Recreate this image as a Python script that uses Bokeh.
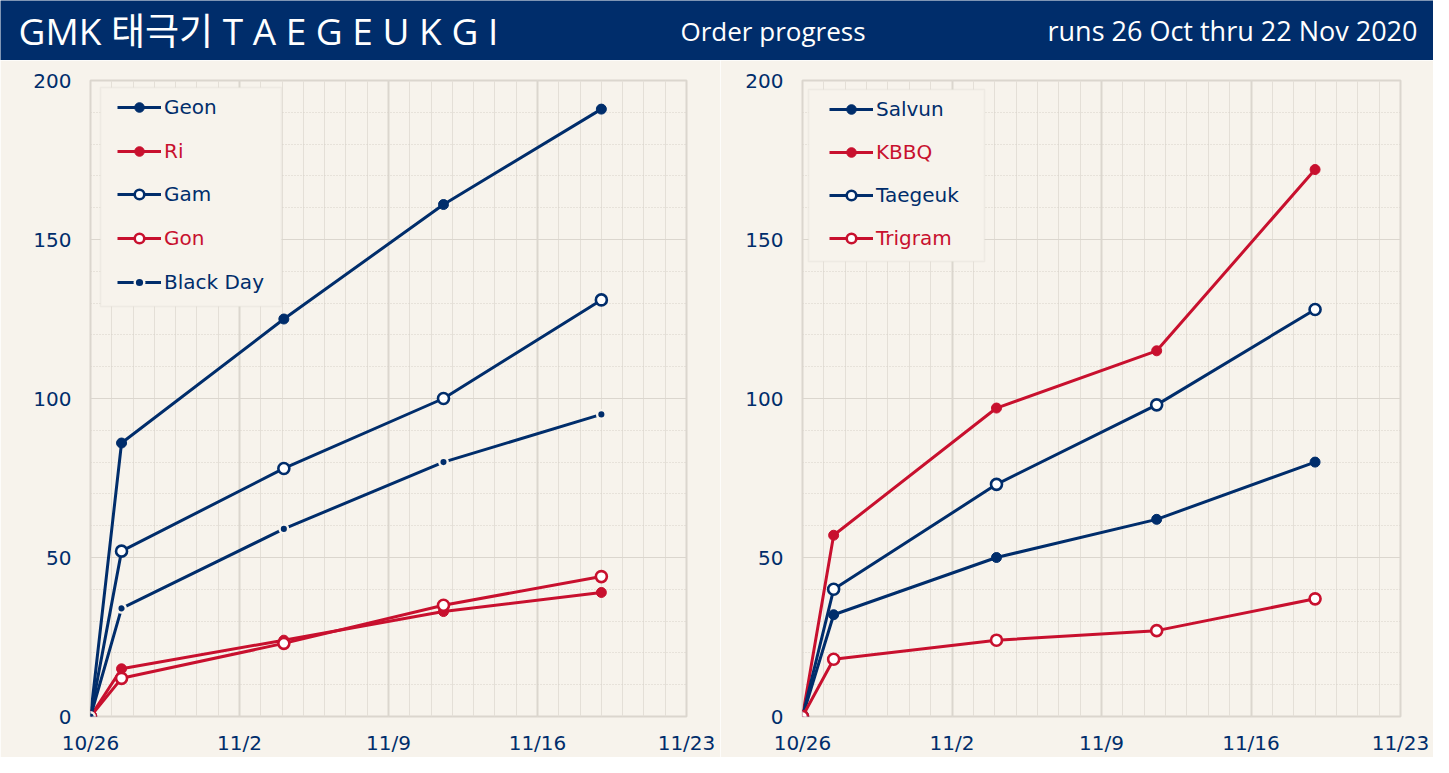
import pandas as pd
from bokeh.plotting import figure
from bokeh.models import Range1d, FixedTicker, Legend, LegendItem, BoxAnnotation
from bokeh.layouts import column, row
from bokeh.core.properties import value
from bokeh.embed import file_html
from bokeh.resources import INLINE

# ---------------- data ----------------
start_date = "2020-10-26"
dates = ["2020-10-26 00:00", "2020-10-27 11:00", "2020-11-04 02:00",
         "2020-11-11 14:00", "2020-11-19 00:00"]

left_names = ["Geon", "Ri", "Gam", "Gon", "Black Day"]
geon = [0, 86, 125, 161, 191]
ri = [0, 15, 24, 33, 39]
gam = [0, 52, 78, 100, 131]
gon = [0, 12, 23, 35, 44]
black_day = [0, 34, 59, 80, 95]

right_names = ["Salvun", "KBBQ", "Taegeuk", "Trigram"]
salvun = [0, 32, 50, 62, 80]
kbbq = [0, 57, 97, 115, 172]
taegeuk = [0, 40, 73, 98, 128]
trigram = [0, 18, 24, 27, 37]

x_ticks = [0, 7, 14, 21, 28]
x_tick_labels = ["10/26", "11/2", "11/9", "11/16", "11/23"]
y_ticks = [0, 50, 100, 150, 200]

title_text = "GMK 태극기 T A E G E U K G I"
subtitle_text = "Order progress"
runs_text = "runs 26 Oct thru 22 Nov 2020"

# ---------------- style ----------------
NAVY = "#002d6b"
RED = "#c8102e"
BG = "#f7f3ec"
GRID_MAJ = "#dbd6ce"
GRID_MIN = "#e4dfd7"
FONT = "DejaVu Sans"
HFONT = "'Open Sans', 'Noto Sans CJK KR'"

days = list((pd.to_datetime(dates) - pd.Timestamp(start_date)) / pd.Timedelta(days=1))


def make_chart(names, series, colors, kinds, width, bl, br, box, rows_y):
    p = figure(width=width, height=697, x_range=Range1d(0, 28), y_range=Range1d(0, 200),
               output_backend="svg", toolbar_location=None,
               min_border_left=bl, min_border_right=br, min_border_top=20, min_border_bottom=40,
               background_fill_color=BG, border_fill_color=BG,
               outline_line_color=GRID_MAJ, outline_line_width=2)
    p.xaxis.ticker = FixedTicker(ticks=x_ticks, minor_ticks=list(range(0, 29)))
    p.xaxis.major_label_overrides = {t: l for t, l in zip(x_ticks, x_tick_labels)}
    p.yaxis.ticker = FixedTicker(ticks=y_ticks, minor_ticks=list(range(0, 201, 10)))
    for ax in (p.xaxis, p.yaxis):
        ax.axis_line_color = None
        ax.major_tick_line_color = None
        ax.minor_tick_line_color = None
        ax.major_tick_out = 0
        ax.minor_tick_out = 0
        ax.major_label_text_font = FONT
        ax.major_label_text_font_size = "20px"
        ax.major_label_text_color = NAVY
    p.yaxis.major_label_standoff = 19
    p.xaxis.major_label_standoff = 14
    p.xgrid.grid_line_color = GRID_MAJ
    p.xgrid.grid_line_width = 2
    p.xgrid.minor_grid_line_color = GRID_MIN
    p.xgrid.minor_grid_line_width = 1
    p.ygrid.grid_line_color = GRID_MAJ
    p.ygrid.grid_line_width = 1
    p.ygrid.minor_grid_line_color = "#d6d1c8"
    p.ygrid.minor_grid_line_dash = "1 2"
    p.ygrid.minor_grid_line_width = 1

    box_ann = BoxAnnotation(left=box[0], right=box[1], top=box[2], bottom=box[3],
                            left_units="canvas", right_units="canvas",
                            top_units="canvas", bottom_units="canvas",
                            fill_color=BG, fill_alpha=1, line_color=GRID_MAJ, line_width=1.5)
    p.add_layout(box_ann)

    items = []
    for name, ys, col, kind in zip(names, series, colors, kinds):
        l = p.line(days, ys, line_color=col, line_width=3)
        if kind == "filled":
            s = p.scatter(days, ys, size=10, fill_color=col, line_color=col, line_width=1)
        elif kind == "open":
            s = p.scatter(days, ys, size=11, fill_color="white", line_color=col, line_width=2.6)
        else:
            s = p.scatter(days, ys, size=8.5, fill_color=col, line_color=BG, line_width=2.4)
        items.append((name, col, [l, s]))

    for (name, col, rends), yc in zip(items, rows_y):
        lg = Legend(items=[LegendItem(label=name, renderers=rends)],
                    location=(27, 717 - yc - 12),
                    background_fill_alpha=0, border_line_alpha=0,
                    padding=0, margin=0, spacing=0,
                    glyph_width=44, glyph_height=24, label_height=24, label_standoff=3,
                    label_text_font=FONT, label_text_font_size="20px",
                    label_text_color=col)
        p.add_layout(lg)
    return p


left = make_chart(left_names, [geon, ri, gam, gon, black_day],
                  [NAVY, RED, NAVY, RED, NAVY], ["filled", "filled", "open", "open", "dot"],
                  720, 90, 34, (100, 281, 27, 246), [108, 152, 195, 239, 283])
right = make_chart(right_names, [salvun, kbbq, taegeuk, trigram],
                   [NAVY, RED, NAVY, RED], ["filled", "filled", "open", "open"],
                   713, 82, 33, (88, 264, 29, 201), [110, 153, 196, 239])

header = figure(width=1433, height=60, x_range=Range1d(0, 1433), y_range=Range1d(0, 60),
                output_backend="svg", toolbar_location=None,
                x_axis_location=None, y_axis_location=None, min_border=0,
                background_fill_color=NAVY, border_fill_color=NAVY, outline_line_color=None)
header.grid.visible = False
header.text(x=[18], y=[30], text=[title_text], text_font=value(HFONT), text_font_size="37px",
            text_color="white", text_baseline="middle", text_align="left")
header.text(x=[680], y=[30], text=[subtitle_text], text_font=value(HFONT), text_font_size="26px",
            text_color="white", text_baseline="middle", text_align="left")
header.text(x=[1417], y=[30], text=[runs_text], text_font=value(HFONT), text_font_size="27px",
            text_color="white", text_baseline="middle", text_align="right")

layout = column(header, row(left, right, spacing=0), spacing=0)
open("out.html", "w").write(file_html(layout, INLINE))
